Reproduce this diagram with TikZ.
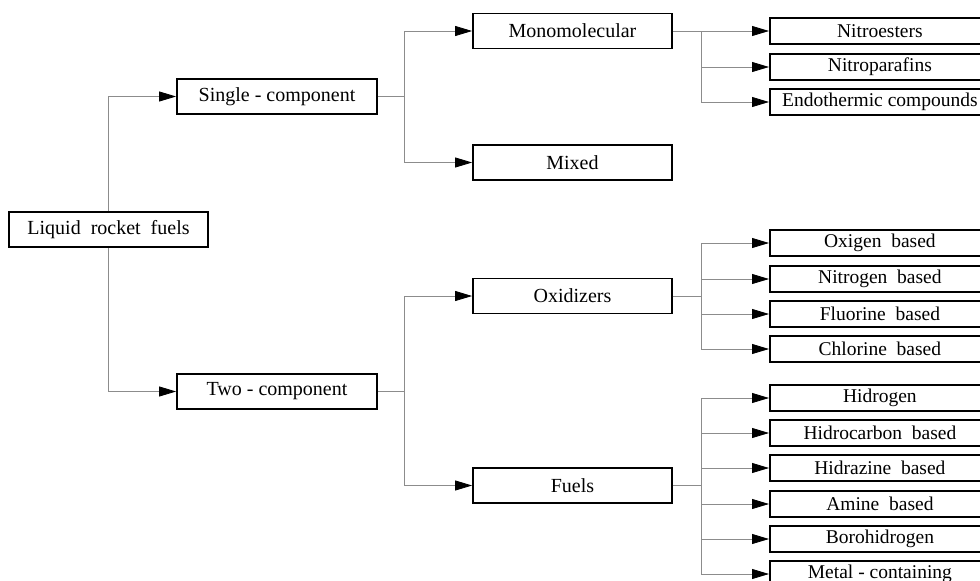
\documentclass[tikz,border=0pt]{standalone}
\usepackage{fontspec}
\setmainfont{Liberation Serif}
\usetikzlibrary{arrows.meta}
\newcommand{\arw}{-{Triangle[length=17pt,width=10pt,color=black]}}

\begin{document}
\begin{tikzpicture}[x=1pt,y=-1pt,
  box/.style={draw=black,line width=1.8pt,minimum width=199pt,minimum height=35pt,inner sep=0pt,font=\fontsize{20}{23}\selectfont},
  item/.style={draw=black,line width=1.8pt,anchor=west,minimum width=220pt,minimum height=25.5pt,inner sep=0pt,font=\fontsize{19.5}{22}\selectfont},
  link/.style={draw=black!45,line width=0.8pt}]
\useasboundingbox (0,0) rectangle (980,581);
%main classes
\node[box] (liquid) at (108.5,229.5) {Liquid~ rocket~ fuels};
\node[box,minimum width=200pt] (single) at (277,96.5) {Single - component};
\node[box,minimum width=200pt] (two) at (277,391.5) {Two - component};
\node[box] (mono) at (572.5,31) {Monomolecular};
\node[box] (mixed) at (572.5,162.5) {Mixed};
\node[box] (oxid) at (572.5,296) {Oxidizers};
\node[box] (fuel) at (572.5,485.5) {Fuels};
%subclasses
\foreach \y/\name/\txt in {31/nest/Nitroesters, 67/npar/Nitroparafins, 102/endo/Endothermic compounds}
  \node[item] (\name) at (769,\y) {\txt};
\foreach \y/\name/\txt in {243/oxy/Oxigen~ based, 279/nit/Nitrogen~ based, 314/flu/Fluorine~ based, 349/chl/Chlorine~ based}
  \node[item] (\name) at (769,\y) {\txt};
\foreach \y/\name/\txt in {398/hyd/Hidrogen, 433/hcb/Hidrocarbon~ based, 468/hdz/Hidrazine~ based, 504/ami/Amine~ based, 539/bor/Borohidrogen, 574/met/Metal - containing}
  \node[item] (\name) at (769,\y) {\txt};
%branch points
\coordinate (sj) at (404,96.5);
\coordinate (tj) at (404,391.5);
\coordinate (mj) at (701,31);
\coordinate (oj) at (701,296);
\coordinate (fj) at (701,485.5);
%connectors
\draw[link,\arw] (liquid.north) |- (single.west);
\draw[link,\arw] (liquid.south) |- (two.west);
\draw[link] (single.east) -- (sj);
\draw[link] (two.east) -- (tj);
\draw[link,\arw] (sj) |- (mono.west);
\draw[link,\arw] (sj) |- (mixed.west);
\draw[link,\arw] (tj) |- (oxid.west);
\draw[link,\arw] (tj) |- (fuel.west);
\draw[link] (mono.east) -- (mj);
\draw[link] (oxid.east) -- (oj);
\draw[link] (fuel.east) -- (fj);
\foreach \name in {nest,npar,endo}
  \draw[link,\arw] (mj) |- (\name.west);
\foreach \name in {oxy,nit,flu,chl}
  \draw[link,\arw] (oj) |- (\name.west);
\foreach \name in {hyd,hcb,hdz,ami,bor,met}
  \draw[link,\arw] (fj) |- (\name.west);
\end{tikzpicture}
\end{document}
